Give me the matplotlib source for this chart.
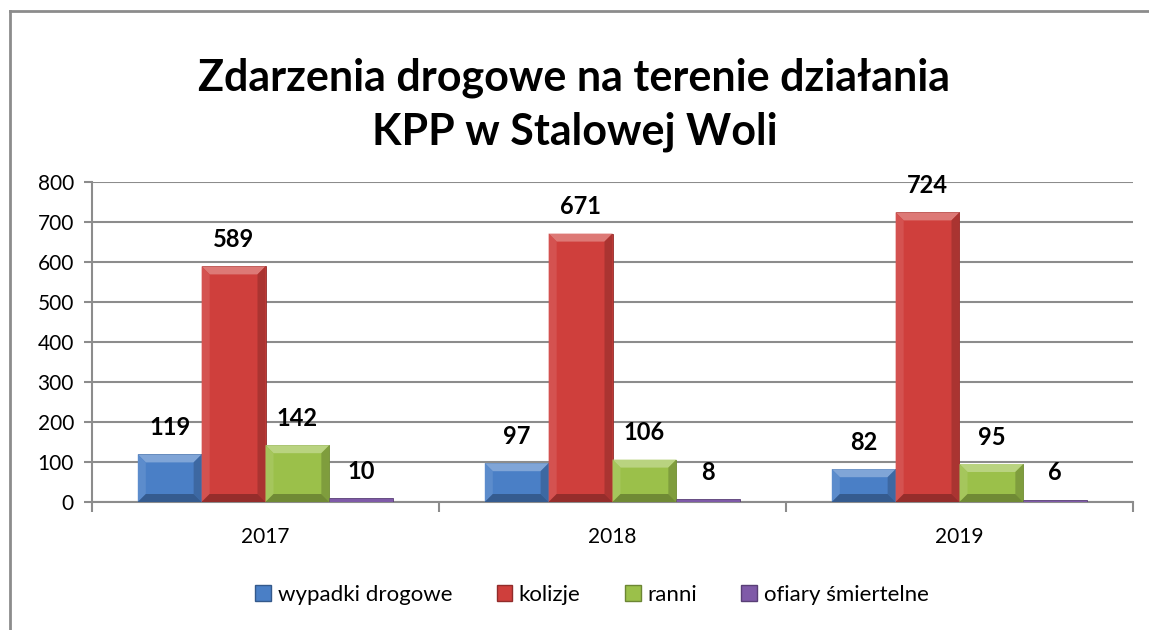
import numpy as np
import matplotlib.pyplot as plt
from matplotlib.patches import Rectangle, Polygon
from matplotlib.lines import Line2D
import matplotlib.colors as mcolors

plt.rcParams['font.family'] = ['Lato', 'DejaVu Sans']

years = ["2017", "2018", "2019"]
series = ["wypadki drogowe", "kolizje", "ranni", "ofiary śmiertelne"]
wypadki = [119, 97, 82]
kolizje = [589, 671, 724]
ranni = [142, 106, 95]
ofiary = [10, 8, 6]
colors = ["#4a7fc6", "#cf3f3c", "#9bc04a", "#7f5aa8"]


def shade(c, f):
    r, g, b = mcolors.to_rgb(c)
    if f >= 0:
        return (r + (1 - r) * f, g + (1 - g) * f, b + (1 - b) * f)
    return (r * (1 + f), g * (1 + f), b * (1 + f))


W, H = 1149, 630
fig = plt.figure(figsize=(W / 100, H / 100), dpi=100)
ax = fig.add_axes([92 / W, 1 - 502 / H, (1133 - 92) / W, (502 - 182) / H])

ax.set_xlim(-0.5, 2.5)
ax.set_ylim(0, 800)
ax.set_yticks(range(0, 801, 100))
ax.yaxis.grid(True, color="#8c8c8c", linewidth=1.5)
ax.set_axisbelow(True)
for s in ["top", "right"]:
    ax.spines[s].set_visible(False)
ax.spines["left"].set_color("#8c8c8c")
ax.spines["bottom"].set_color("#8c8c8c")
ax.spines["left"].set_linewidth(1.5)
ax.spines["bottom"].set_linewidth(1.5)
ax.tick_params(axis="y", length=6, width=1.5, color="#8c8c8c", labelsize=15, pad=7)
ax.set_xticks([0, 1, 2])
ax.set_xticklabels(years)
ax.tick_params(axis="x", length=0, labelsize=15, pad=18)
ax.set_xticks([-0.5, 0.5, 1.5, 2.5], minor=True)
ax.tick_params(axis="x", which="minor", length=7, width=1.5, color="#8c8c8c")

x = np.arange(len(years))
bw = 0.184
data = [wypadki, kolizje, ranni, ofiary]
bx = 8 / 347
by_unit = 8 / 0.4

for i, (vals, c) in enumerate(zip(data, colors)):
    xs = x + (i - 1.5) * bw
    ax.bar(xs, vals, width=bw, color=c, edgecolor=shade(c, -0.3), linewidth=0.6, zorder=3)
    for xc, v in zip(xs, vals):
        x0, x1 = xc - bw / 2, xc + bw / 2
        if v > 20:
            byy = min(by_unit, v / 3)
            ix0, ix1 = x0 + bx, x1 - bx
            iy0, iy1 = byy, v - byy
            ax.add_patch(Polygon([(x0, v), (x1, v), (ix1, iy1), (ix0, iy1)], color=shade(c, 0.3), zorder=4, lw=0))
            ax.add_patch(Polygon([(x0, 0), (x0, v), (ix0, iy1), (ix0, iy0)], color=shade(c, 0.1), zorder=4, lw=0))
            ax.add_patch(Polygon([(x1, 0), (x1, v), (ix1, iy1), (ix1, iy0)], color=shade(c, -0.18), zorder=4, lw=0))
            ax.add_patch(Polygon([(x0, 0), (x1, 0), (ix1, iy0), (ix0, iy0)], color=shade(c, -0.28), zorder=4, lw=0))
        ax.annotate(str(v), (xc, v), xytext=(0, 11), textcoords="offset points",
                    ha="center", va="bottom", fontsize=17, fontweight="bold", zorder=5)

fig.text(0.5, 1 - 78 / H, "Zdarzenia drogowe na terenie działania", ha="center", va="center",
         fontsize=31, fontweight="bold")
fig.text(0.5, 1 - 132 / H, "KPP w Stalowej Woli", ha="center", va="center",
         fontsize=31, fontweight="bold")

handles = [Rectangle((0, 0), 1, 1, facecolor=c, edgecolor=shade(c, -0.3)) for c in colors]
fig.legend(handles, series, loc="center", bbox_to_anchor=(592 / W, 1 - 595 / H), ncol=4,
           frameon=False, fontsize=16, handlelength=0.7, handleheight=0.7, handletextpad=0.3,
           columnspacing=2.0)

fig.add_artist(Line2D([10 / W, 10 / W], [0, 1 - 11 / H], color="#8c8c8c", lw=2))
fig.add_artist(Line2D([10 / W, 1], [1 - 11 / H, 1 - 11 / H], color="#8c8c8c", lw=2))

fig.savefig("out.png", dpi=100)
